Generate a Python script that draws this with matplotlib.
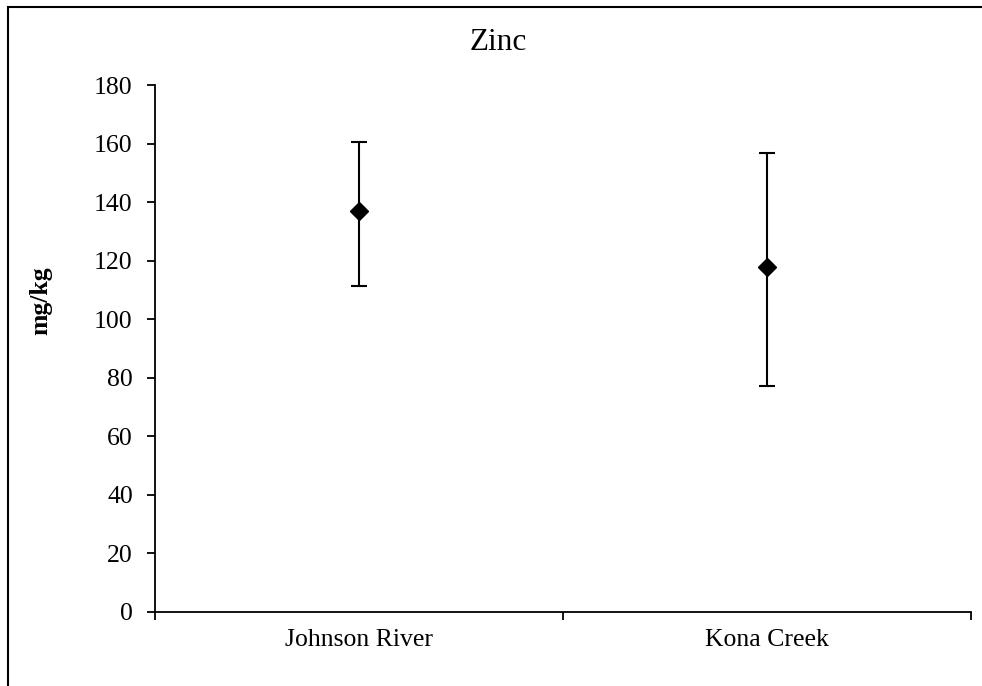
import matplotlib.pyplot as plt
from matplotlib.patches import Rectangle

# data
sites = ["Johnson River", "Kona Creek"]
means = [137, 118]
upper = [160.7, 156.8]
lower = [111.2, 77.2]

plt.rcParams['font.family'] = ['Liberation Serif', 'DejaVu Serif']

fig = plt.figure(figsize=(9.82, 6.86), dpi=100)
ax = fig.add_axes([155 / 982, 1 - 612 / 686, (971 - 155) / 982, (612 - 85) / 686])

# error bars
xpos = [i + 0.5 for i in range(len(sites))]
err_lo = [m - l for m, l in zip(means, lower)]
err_hi = [u - m for m, u in zip(means, upper)]
ax.errorbar(xpos, means, yerr=[err_lo, err_hi], fmt='D', color='black',
            markersize=9, elinewidth=1.5, capsize=6, capthick=1.5)

ax.set_xlim(0, len(sites))
ax.set_ylim(0, 180)
ax.set_yticks(range(0, 181, 20))
ax.set_xticks(range(len(sites) + 1))
ax.set_xticklabels([])
ax.set_xticks(xpos, minor=True)
ax.set_xticklabels(sites, minor=True)
ax.tick_params(axis='x', which='minor', length=0, labelsize=18.5, pad=12)
ax.tick_params(axis='x', which='major', length=6, width=1.3, direction='out')
ax.tick_params(axis='y', length=6, width=1.3, direction='out', labelsize=18.5, pad=10)

for s in ['top', 'right']:
    ax.spines[s].set_visible(False)
for s in ['left', 'bottom']:
    ax.spines[s].set_linewidth(1.3)

fig.text(41 / 982, 1 - 301 / 686, "mg/kg", ha='center', va='center',
         rotation=90, fontsize=18.5, fontweight='bold')
fig.text(498 / 982, 1 - 42 / 686, "Zinc", ha='center', va='center', fontsize=22.5)

# chart border (cropped on right/bottom)
fig.patches.append(Rectangle((8 / 982, -0.1), 1.2, 1 - 7 / 686 + 0.1,
                             transform=fig.transFigure, fill=False,
                             edgecolor='black', linewidth=1.5))

plt.savefig("out.png", dpi=100)
